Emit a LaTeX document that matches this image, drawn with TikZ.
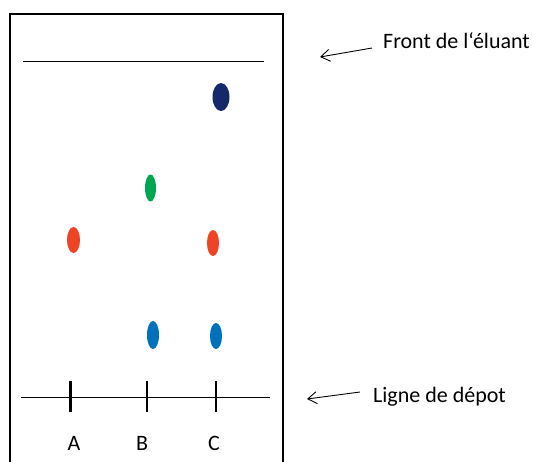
\documentclass[tikz,border=0pt]{standalone}
\usepackage{fontspec}
\setmainfont{Carlito}
\usetikzlibrary{shapes.geometric,arrows.meta}
\definecolor{navy}{HTML}{14286A}
\definecolor{spotgreen}{HTML}{00A651}
\definecolor{spotred}{HTML}{EE4325}
\definecolor{spotblue}{HTML}{0072BC}
\tikzset{
  spot/.style={ellipse, draw=none, inner sep=0pt},
  tick/.style={line width=2.8pt},
  thin/.style={line width=1pt},
  lbl/.style={font=\fontsize{22}{24}\selectfont, inner sep=0pt},
  pointer/.style={line width=0.9pt, -{Straight Barb[length=9pt,width=12pt]}}
}
\begin{document}
\begin{tikzpicture}[x=1pt,y=-1pt]
\useasboundingbox (0,0) rectangle (533,461);
% plate
\draw[line width=2pt] (10,462) -- (10,14) -- (283,14) -- (283,462);
% front line
\coordinate (f1) at (23,61);
\coordinate (f2) at (264,61);
\draw[thin] (f1) -- (f2);
% depot line
\coordinate (d1) at (21,397);
\coordinate (d2) at (270,397);
\draw[thin] (d1) -- (d2);
% ticks
\coordinate (ta1) at (70.5,381); \coordinate (ta2) at (70.5,412);
\coordinate (tb1) at (147,381); \coordinate (tb2) at (147,412);
\coordinate (tc1) at (216,381); \coordinate (tc2) at (216,412);
\draw[tick] (ta1) -- (ta2);
\draw[tick] (tb1) -- (tb2);
\draw[tick] (tc1) -- (tc2);
% labels
\node[lbl] (A) at (74,443) {A};
\node[lbl] (B) at (142,443) {B};
\node[lbl] (C) at (214,443) {C};
% spots
\node[spot, fill=navy, minimum width=17pt, minimum height=28pt] (s1) at (221,97) {};
\node[spot, fill=spotgreen, minimum width=11pt, minimum height=27pt] (s2) at (150.5,188) {};
\node[spot, fill=spotred, minimum width=13pt, minimum height=26pt] (s3) at (73.5,240) {};
\node[spot, fill=spotred, minimum width=12pt, minimum height=26pt] (s4) at (213,243) {};
\node[spot, fill=spotblue, minimum width=12pt, minimum height=28pt] (s5) at (153,335) {};
\node[spot, fill=spotblue, minimum width=12pt, minimum height=26pt] (s6) at (216,336) {};
% annotations
\node[lbl, anchor=west] (front) at (383,41) {Front de l‘éluant};
\node[lbl, anchor=west] (ligne) at (373,397) {Ligne de dépot};
\coordinate (fa1) at (372,48);
\coordinate (fa2) at (320,57);
\coordinate (la1) at (360,392);
\coordinate (la2) at (307,399);
\draw[pointer] (fa1) -- (fa2);
\draw[pointer] (la1) -- (la2);
\end{tikzpicture}
\end{document}
